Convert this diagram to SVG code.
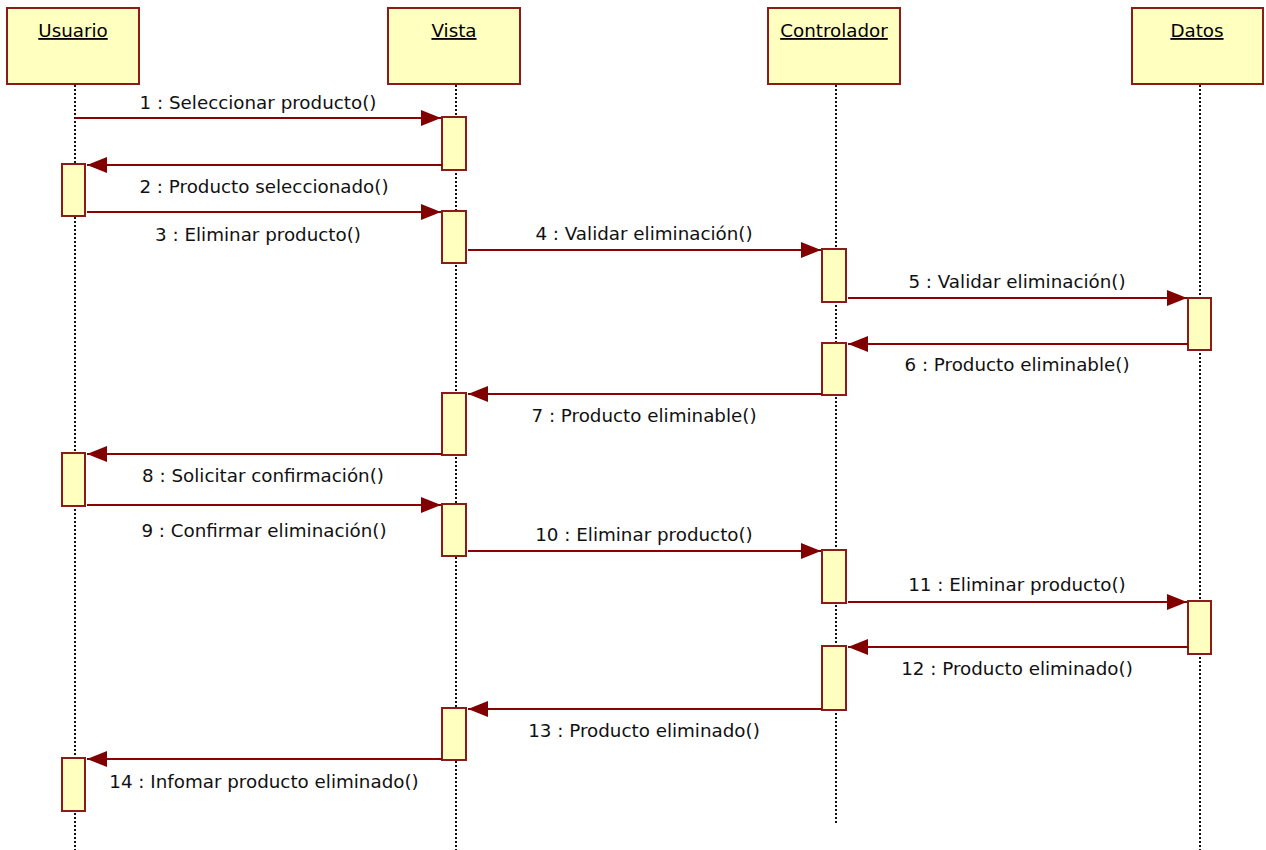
<svg xmlns="http://www.w3.org/2000/svg" width="1266" height="850" viewBox="0 0 1266 850">
  <style>
    .head { fill: #FFFFC0; stroke: #8B1A1A; stroke-width: 2; }
    .act { fill: #FFFFC0; stroke: #8B1A1A; stroke-width: 2; }
    .life { stroke: #111; stroke-width: 2; stroke-dasharray: 2 2; fill: none; }
    .msg { stroke: #8B0000; stroke-width: 2; fill: none; marker-end: url(#arrow); }
    .title { font-family: "DejaVu Sans", Verdana, sans-serif; font-size: 18.3px; fill: #000; text-anchor: middle; text-decoration: underline; }
    .lbl { font-family: "DejaVu Sans", Verdana, sans-serif; font-size: 18.3px; fill: #111; text-anchor: middle; }
  </style>
  <defs>
    <marker id="arrow" markerUnits="userSpaceOnUse" markerWidth="21" markerHeight="17" refX="20" refY="8" orient="auto">
      <path d="M0,0 L20,8 L0,16 z" fill="#800000"/>
    </marker>
  </defs>
  <rect width="1266" height="850" fill="#fff"/>

  <!-- Lifelines -->
  <g id="lifelines">
    <line class="life" x1="75" y1="85" x2="75" y2="850"/>
    <line class="life" x1="456" y1="85" x2="456" y2="850"/>
    <line class="life" x1="836" y1="85" x2="836" y2="825"/>
    <line class="life" x1="1200" y1="85" x2="1200" y2="850"/>
  </g>

  <!-- Participants -->
  <g id="usuario">
    <rect class="head" x="7" y="8" width="132" height="76"/>
    <text class="title" x="73" y="37">Usuario</text>
    <rect class="act" x="62" y="164" width="23" height="52"/>
    <rect class="act" x="62" y="453" width="23" height="53"/>
    <rect class="act" x="62" y="758" width="23" height="53"/>
  </g>
  <g id="vista">
    <rect class="head" x="388" y="8" width="132" height="76"/>
    <text class="title" x="454" y="37">Vista</text>
    <rect class="act" x="442" y="117" width="24" height="53"/>
    <rect class="act" x="442" y="211" width="24" height="52"/>
    <rect class="act" x="442" y="393" width="24" height="62"/>
    <rect class="act" x="442" y="504" width="24" height="52"/>
    <rect class="act" x="442" y="708" width="24" height="52"/>
  </g>
  <g id="controlador">
    <rect class="head" x="768" y="8" width="132" height="76"/>
    <text class="title" x="834" y="37">Controlador</text>
    <rect class="act" x="822" y="249" width="24" height="53"/>
    <rect class="act" x="822" y="343" width="24" height="52"/>
    <rect class="act" x="822" y="550" width="24" height="53"/>
    <rect class="act" x="822" y="646" width="24" height="64"/>
  </g>
  <g id="datos">
    <rect class="head" x="1132" y="8" width="131" height="76"/>
    <text class="title" x="1197" y="37">Datos</text>
    <rect class="act" x="1188" y="298" width="23" height="52"/>
    <rect class="act" x="1188" y="601" width="23" height="53"/>
  </g>

  <!-- Messages -->
  <g id="connectors">
    <line class="msg" x1="75" y1="118" x2="441" y2="118"/>
    <line class="msg" x1="442" y1="165" x2="87" y2="165"/>
    <line class="msg" x1="87" y1="212" x2="441" y2="212"/>
    <line class="msg" x1="468" y1="250" x2="821" y2="250"/>
    <line class="msg" x1="848" y1="298" x2="1187" y2="298"/>
    <line class="msg" x1="1188" y1="344" x2="848" y2="344"/>
    <line class="msg" x1="822" y1="394" x2="468" y2="394"/>
    <line class="msg" x1="442" y1="454" x2="87" y2="454"/>
    <line class="msg" x1="87" y1="505" x2="441" y2="505"/>
    <line class="msg" x1="468" y1="551" x2="821" y2="551"/>
    <line class="msg" x1="848" y1="602" x2="1187" y2="602"/>
    <line class="msg" x1="1188" y1="647" x2="848" y2="647"/>
    <line class="msg" x1="822" y1="709" x2="468" y2="709"/>
    <line class="msg" x1="442" y1="759" x2="87" y2="759"/>
  </g>

  <!-- Message labels -->
  <g id="labels">
    <text class="lbl" x="258" y="109">1 : Seleccionar producto()</text>
    <text class="lbl" x="264" y="193">2 : Producto seleccionado()</text>
    <text class="lbl" x="258" y="241">3 : Eliminar producto()</text>
    <text class="lbl" x="644" y="240">4 : Validar eliminación()</text>
    <text class="lbl" x="1017" y="288">5 : Validar eliminación()</text>
    <text class="lbl" x="1017" y="371">6 : Producto eliminable()</text>
    <text class="lbl" x="644" y="422">7 : Producto eliminable()</text>
    <text class="lbl" x="263" y="482">8 : Solicitar confirmación()</text>
    <text class="lbl" x="264" y="537">9 : Confirmar eliminación()</text>
    <text class="lbl" x="644" y="541">10 : Eliminar producto()</text>
    <text class="lbl" x="1017" y="591">11 : Eliminar producto()</text>
    <text class="lbl" x="1017" y="675">12 : Producto eliminado()</text>
    <text class="lbl" x="644" y="737">13 : Producto eliminado()</text>
    <text class="lbl" x="264" y="788">14 : Infomar producto eliminado()</text>
  </g>
</svg>
